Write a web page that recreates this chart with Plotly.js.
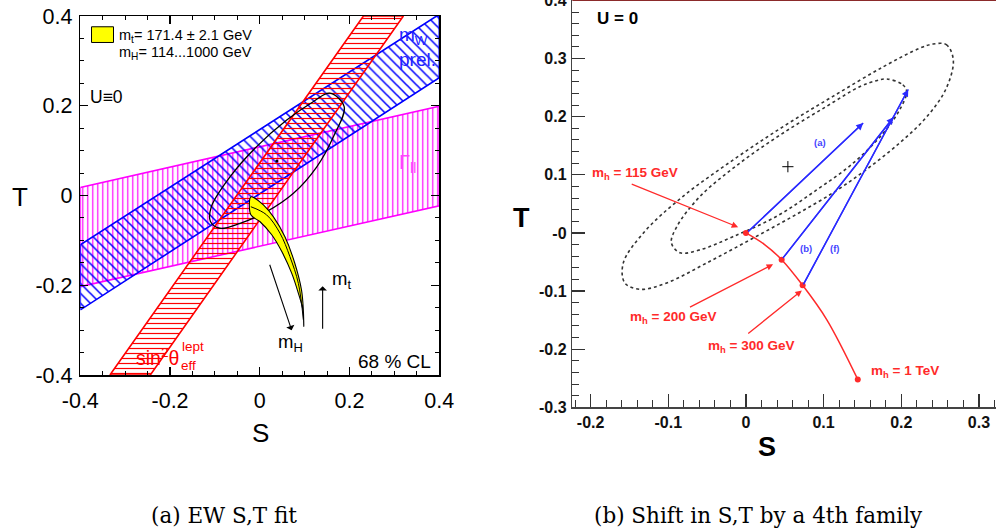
<!DOCTYPE html>
<html>
<head>
<meta charset="utf-8">
<script src="https://cdn.plot.ly/plotly-3.0.1.min.js"></script>
<style>html,body{margin:0;padding:0;background:#fff;}#chart{width:996px;height:531px;}</style>
</head>
<body>
<div id="chart"></div>
<script>
// ---------- Panel (a): EW S,T fit ----------
const gammaBandS = [-0.4, 0.4, 0.4, -0.4, -0.4];
const gammaBandT = [-0.203, -0.023, 0.199, 0.018, -0.203];

const mwBandS = [-0.4, 0.4, 0.4, 0.394, -0.4, -0.4];
const mwBandT = [-0.255, 0.2625, 0.4, 0.4, -0.11, -0.255];

const sinBandS = [-0.334, -0.244, 0.320, 0.231, -0.334];
const sinBandT = [-0.4, -0.4, 0.4, 0.4, -0.4];

const ellipseS = [0.156, 0.188, 0.164, 0.127, 0.075, 0.015, -0.044, -0.089, -0.110, -0.108, -0.066, -0.007, 0.060, 0.119, 0.156];
const ellipseT = [0.228, 0.198, 0.131, 0.064, 0.005, -0.036, -0.062, -0.073, -0.058, -0.025, 0.042, 0.109, 0.168, 0.209, 0.228];
const fitCenterS = [0.038];
const fitCenterT = [0.077];

const smBandS = [-0.020, -0.020, 0.000, 0.027, 0.049, 0.071, 0.086, 0.096, 0.098, 0.097, 0.093, 0.078, 0.056, 0.030, 0.008, -0.011, -0.020];
const smBandT = [-0.003, -0.043, -0.058, -0.088, -0.125, -0.173, -0.218, -0.255, -0.292, -0.255, -0.211, -0.151, -0.092, -0.047, -0.021, -0.006, -0.003];
const smInnerS = [-0.020, 0.015, 0.045, 0.067, 0.086, 0.097];
const smInnerT = [-0.025, -0.043, -0.084, -0.136, -0.196, -0.277];

const legendLines = ["m<sub>t</sub>= 171.4 ± 2.1 GeV", "m<sub>H</sub>= 114...1000 GeV"];
const tickValsA = [-0.4, -0.2, 0, 0.2, 0.4];
const tickTextA = ["-0.4", "-0.2", "0", "0.2", "0.4"];

// arrows (m_H, m_t): tail -> head
const arrowA_tailS = [0.021, 0.140];
const arrowA_tailT = [-0.151, -0.300];
const arrowA_headS = [0.071, 0.140];
const arrowA_headT = [-0.300, -0.202];

// ---------- Panel (b): shift by a 4th family ----------
const outerS = [0.241, 0.258, 0.267, 0.258, 0.233, 0.198, 0.155, 0.112, 0.061, 0.005, -0.051, -0.102, -0.136, -0.156, -0.158, -0.132, -0.081, -0.016, 0.048, 0.112, 0.177, 0.224, 0.241];
const outerT = [0.325, 0.324, 0.298, 0.249, 0.200, 0.155, 0.109, 0.069, 0.029, -0.012, -0.052, -0.086, -0.097, -0.086, -0.052, 0.000, 0.063, 0.126, 0.183, 0.235, 0.286, 0.318, 0.325];
const innerS = [0.181, 0.202, 0.207, 0.198, 0.177, 0.138, 0.091, 0.040, -0.016, -0.059, -0.085, -0.096, -0.089, -0.059, -0.008, 0.048, 0.104, 0.147, 0.168, 0.181];
const innerT = [0.265, 0.255, 0.243, 0.212, 0.172, 0.120, 0.074, 0.029, -0.006, -0.029, -0.034, -0.017, 0.011, 0.063, 0.120, 0.172, 0.218, 0.252, 0.262, 0.265];
const bestFitS = [0.054];
const bestFitT = [0.114];

const higgsCurveS = [0.0, 0.024, 0.046, 0.073, 0.104, 0.144];
const higgsCurveT = [0.0, -0.020, -0.046, -0.090, -0.149, -0.252];
const higgsPointS = [0.0, 0.046, 0.073, 0.144];
const higgsPointT = [0.0, -0.046, -0.090, -0.252];
const higgsLabels = ["<b>m<sub>h</sub> = 115 GeV</b>", "<b>m<sub>h</sub> = 200 GeV</b>", "<b>m<sub>h</sub> = 300 GeV</b>", "<b>m<sub>h</sub> = 1 TeV</b>"];
const higgsLabelS = [-0.143, -0.094, 0.006, 0.205];
const higgsLabelT = [0.103, -0.146, -0.195, -0.238];
const higgsArrowTailS = [-0.149, -0.074, 0.001];
const higgsArrowTailT = [0.085, -0.129, -0.175];
const higgsArrowHeadS = [-0.010, 0.035, 0.072];
const higgsArrowHeadT = [0.010, -0.054, -0.099];

const shiftNames = ["(a)", "(b)", "(f)"];
const shiftTailS = [0.001, 0.046, 0.073];
const shiftTailT = [0.0, -0.046, -0.091];
const shiftHeadS = [0.151, 0.190, 0.209];
const shiftHeadT = [0.189, 0.199, 0.247];
const shiftLabelS = [0.096, 0.077, 0.115];
const shiftLabelT = [0.155, -0.026, -0.026];

const tickValsB_y = [-0.3, -0.2, -0.1, 0, 0.1, 0.2, 0.3, 0.4];
const tickTextB_y = ["-0.3", "-0.2", "-0.1", "-0", "0.1", "0.2", "0.3", "0.4"];
const tickValsB_x = [-0.2, -0.1, 0, 0.1, 0.2, 0.3];
const tickTextB_x = ["-0.2", "-0.1", "0", "0.1", "0.2", "0.3"];

const captions = ["(a) EW S,T fit", "(b) Shift in S,T by a 4th family"];

// ---------- traces ----------
const SANS = "Liberation Sans, Arial, Helvetica, sans-serif";
const SERIF = "DejaVu Serif, Liberation Serif, serif";
const clear = "rgba(0,0,0,0)";
function band(xs, ys, col, shape, size, sol) {
  return {x: xs, y: ys, xaxis: 'x', yaxis: 'y', mode: 'lines', fill: 'toself', fillcolor: clear,
    fillpattern: {shape: shape, fgcolor: col, bgcolor: clear, size: size, solidity: sol},
    line: {color: col, width: 1.6}, hoverinfo: 'skip', showlegend: false};
}
const traces = [
  band(gammaBandS, gammaBandT, '#ff00ff', '|', 5, 0.24),
  band(mwBandS, mwBandT, '#0000ff', '\\', 7, 0.22),
  band(sinBandS, sinBandT, '#ff0000', '-', 5, 0.24),
  {x: ellipseS, y: ellipseT, xaxis: 'x', yaxis: 'y', mode: 'lines', line: {color: '#000', width: 1.3, shape: 'spline'}, showlegend: false},
  {x: fitCenterS, y: fitCenterT, xaxis: 'x', yaxis: 'y', mode: 'markers', marker: {color: '#000', size: 3}, showlegend: false},
  {x: smBandS, y: smBandT, xaxis: 'x', yaxis: 'y', mode: 'lines', fill: 'toself', fillcolor: '#ffff00', line: {color: '#000', width: 1.1, shape: 'spline'}, showlegend: false},
  {x: smInnerS, y: smInnerT, xaxis: 'x', yaxis: 'y', mode: 'lines', line: {color: '#000', width: 1, shape: 'spline'}, showlegend: false},

  {x: outerS, y: outerT, xaxis: 'x2', yaxis: 'y2', mode: 'lines', line: {color: '#333', width: 1.6, dash: 'dot', shape: 'spline'}, showlegend: false},
  {x: innerS, y: innerT, xaxis: 'x2', yaxis: 'y2', mode: 'lines', line: {color: '#333', width: 1.6, dash: 'dot', shape: 'spline'}, showlegend: false},
  {x: bestFitS, y: bestFitT, xaxis: 'x2', yaxis: 'y2', mode: 'markers', marker: {symbol: 'cross-thin', size: 8, line: {color: '#000', width: 1}}, showlegend: false},
  {x: higgsCurveS, y: higgsCurveT, xaxis: 'x2', yaxis: 'y2', mode: 'lines', line: {color: '#ff2a2a', width: 1.5, shape: 'spline'}, showlegend: false}
];
for (let i = 0; i < shiftNames.length; i++) {
  traces.push({x: [shiftTailS[i], shiftHeadS[i]], y: [shiftTailT[i], shiftHeadT[i]], xaxis: 'x2', yaxis: 'y2', mode: 'lines', line: {color: '#2a2aff', width: 1.4}, showlegend: false});
}
traces.push({x: higgsPointS, y: higgsPointT, xaxis: 'x2', yaxis: 'y2', mode: 'markers', marker: {color: '#ff2a2a', size: 6}, showlegend: false});

// ---------- annotations ----------
const ann = [];
function txt(x, y, text, opts) {
  ann.push(Object.assign({x: x, y: y, text: text, showarrow: false, xref: 'x', yref: 'y', xanchor: 'center', yanchor: 'middle', font: {family: SANS, size: 16, color: '#000'}}, opts));
}
txt(-0.319, 0.355, legendLines[0], {xanchor: 'left', font: {family: SANS, size: 14.5, color: '#000'}});
txt(-0.319, 0.317, legendLines[1], {xanchor: 'left', font: {family: SANS, size: 14.5, color: '#000'}});
txt(-0.383, 0.219, "U≡0", {xanchor: 'left', font: {family: SANS, size: 17.5, color: '#000'}});
txt(0.306, 0.33, "m<sub>W</sub><br>prel.", {xanchor: 'left', align: 'left', font: {family: SANS, size: 19, color: '#2222ff'}});
txt(0.306, 0.072, "Γ<sub>ll</sub>", {xanchor: 'left', font: {family: SANS, size: 20, color: '#ff44ff'}});
txt(-0.280, -0.359, "sin<sup>2</sup>θ", {xanchor: 'left', font: {family: SANS, size: 19.5, color: '#ff0000'}});
txt(-0.178, -0.336, "lept", {xanchor: 'left', font: {family: SANS, size: 13.5, color: '#ff0000'}});
txt(-0.180, -0.379, "eff", {xanchor: 'left', font: {family: SANS, size: 13.5, color: '#ff0000'}});
txt(0.386, -0.371, "68 % CL", {xanchor: 'right', font: {family: SANS, size: 19, color: '#000'}});
txt(0.069, -0.329, "m<sub>H</sub>", {font: {family: SANS, size: 18.5, color: '#000'}});
txt(0.183, -0.188, "m<sub>t</sub>", {font: {family: SANS, size: 18.5, color: '#000'}});
for (let i = 0; i < arrowA_tailS.length; i++) {
  ann.push({x: arrowA_headS[i], y: arrowA_headT[i], ax: arrowA_tailS[i], ay: arrowA_tailT[i], xref: 'x', yref: 'y', axref: 'x', ayref: 'y', text: '', showarrow: true, arrowhead: 1, arrowsize: 1.3, arrowwidth: 1.1, arrowcolor: '#000'});
}
txt(-0.194, 0.369, "<b>U = 0</b>", {xref: 'x2', yref: 'y2', xanchor: 'left', font: {family: SANS, size: 17, color: '#000'}});
for (let i = 0; i < higgsLabels.length; i++) {
  txt(higgsLabelS[i], higgsLabelT[i], higgsLabels[i], {xref: 'x2', yref: 'y2', font: {family: SANS, size: 13.5, color: '#ff2a2a'}});
}
for (let i = 0; i < higgsArrowTailS.length; i++) {
  ann.push({x: higgsArrowHeadS[i], y: higgsArrowHeadT[i], ax: higgsArrowTailS[i], ay: higgsArrowTailT[i], xref: 'x2', yref: 'y2', axref: 'x2', ayref: 'y2', text: '', showarrow: true, arrowhead: 2, arrowsize: 1, arrowwidth: 1.3, arrowcolor: '#ff2a2a'});
}
for (let i = 0; i < shiftNames.length; i++) {
  ann.push({x: shiftHeadS[i], y: shiftHeadT[i], ax: shiftTailS[i], ay: shiftTailT[i], xref: 'x2', yref: 'y2', axref: 'x2', ayref: 'y2', text: '', showarrow: true, arrowhead: 2, arrowsize: 1, arrowwidth: 1.4, arrowcolor: '#2a2aff'});
  txt(shiftLabelS[i], shiftLabelT[i], "<b>" + shiftNames[i] + "</b>", {xref: 'x2', yref: 'y2', font: {family: SANS, size: 9.5, color: '#4444ff'}});
}
function ptxt(x, y, text, font) { ann.push({x: x, y: y, xref: 'paper', yref: 'paper', xanchor: 'center', yanchor: 'middle', text: text, showarrow: false, font: font}); }
ptxt(260 / 996, 1 - 433 / 531, "S", {family: SANS, size: 26, color: '#000'});
ptxt(20 / 996, 1 - 197 / 531, "T", {family: SANS, size: 26, color: '#000'});
ptxt(521.7 / 996, 1 - 218.3 / 531, "<b>T</b>", {family: SANS, size: 27, color: '#000'});
ptxt(766.7 / 996, 1 - 446.7 / 531, "<b>S</b>", {family: SANS, size: 27, color: '#000'});
ptxt(224 / 996, 1 - 515 / 531, captions[0], {family: SERIF, size: 21.5, color: '#000'});
ptxt(758 / 996, 1 - 515 / 531, captions[1], {family: SERIF, size: 21.5, color: '#000'});

const layout = {
  width: 996, height: 531, margin: {l: 0, r: 0, t: 0, b: 0},
  paper_bgcolor: '#fff', plot_bgcolor: '#fff', showlegend: false,
  xaxis: {domain: [80.3 / 996, 439.3 / 996], range: [-0.4, 0.4], anchor: 'y', showgrid: false, zeroline: false,
    showline: true, linecolor: '#000', linewidth: 1.5, mirror: 'allticks', ticks: 'inside', ticklen: 8, tickwidth: 1.2, tickcolor: '#000',
    tickmode: 'array', tickvals: tickValsA, ticktext: tickTextA, ticklabelstandoff: 6,
    minor: {dtick: 0.05, tick0: 0, ticks: 'inside', ticklen: 4, tickcolor: '#000', tickwidth: 1},
    tickfont: {family: SANS, size: 21.5, color: '#000'}},
  yaxis: {domain: [1 - 375 / 531, 1 - 16 / 531], range: [-0.4, 0.4], anchor: 'x', showgrid: false, zeroline: false,
    showline: true, linecolor: '#000', linewidth: 1.5, mirror: 'allticks', ticks: 'inside', ticklen: 8, tickwidth: 1.2, tickcolor: '#000',
    tickmode: 'array', tickvals: tickValsA, ticktext: tickTextA, ticklabelstandoff: 2,
    minor: {dtick: 0.05, tick0: 0, ticks: 'inside', ticklen: 4, tickcolor: '#000', tickwidth: 1},
    tickfont: {family: SANS, size: 21.5, color: '#000'}},
  xaxis2: {domain: [572.3 / 996, 1], range: [-0.2236, 0.322], anchor: 'y2', showgrid: false, zeroline: false,
    showline: true, linecolor: '#444', linewidth: 1.5, ticks: 'inside', ticklen: 13, tickwidth: 1.2, tickcolor: '#333',
    tickmode: 'array', tickvals: tickValsB_x, ticktext: tickTextB_x, ticklabelstandoff: 0,
    minor: {dtick: 0.02, tick0: 0, ticks: 'inside', ticklen: 7, tickcolor: '#333', tickwidth: 1},
    tickfont: {family: SANS, size: 16, color: '#111', weight: 'bold'}},
  yaxis2: {domain: [1 - 407.3 / 531, 1], range: [-0.3, 0.4008], anchor: 'x2', showgrid: false, zeroline: false,
    showline: true, linecolor: '#444', linewidth: 1.5, ticks: 'inside', ticklen: 13, tickwidth: 1.2, tickcolor: '#333',
    tickmode: 'array', tickvals: tickValsB_y, ticktext: tickTextB_y, ticklabelstandoff: 1, ticklabeloverflow: 'allow',
    minor: {dtick: 0.02, tick0: 0, ticks: 'inside', ticklen: 7, tickcolor: '#333', tickwidth: 1},
    tickfont: {family: SANS, size: 16, color: '#111', weight: 'bold'}},
  shapes: [
    {type: 'rect', xref: 'x', yref: 'y', x0: -0.375, x1: -0.326, y0: 0.341, y1: 0.376, fillcolor: '#ffff00', line: {color: '#000', width: 1}},
    {type: 'line', xref: 'x2 domain', yref: 'y2 domain', x0: 0, x1: 1, y0: 1, y1: 1, line: {color: '#8b2a2a', width: 2}}
  ],
  annotations: ann
};
Plotly.newPlot('chart', traces, layout, {staticPlot: true, displayModeBar: false});
</script>
</body>
</html>
